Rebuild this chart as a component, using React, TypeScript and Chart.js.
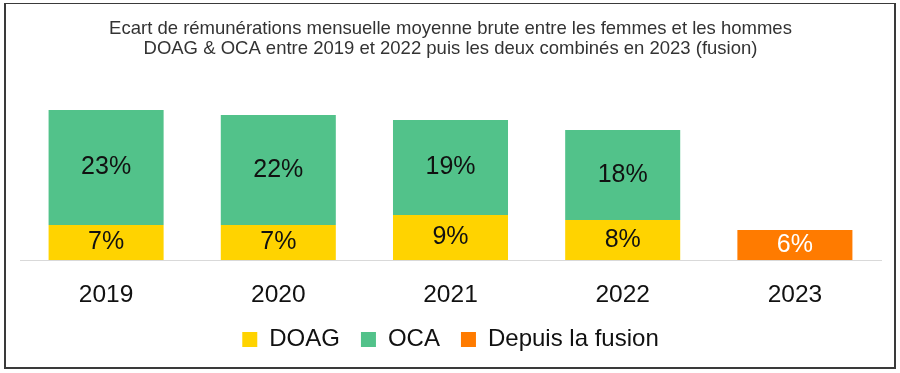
import React, { useEffect, useRef } from "react";
import { Chart, registerables } from "chart.js";

Chart.register(...registerables);

const categories = ["2019", "2020", "2021", "2022", "2023"];
const doagValues = [7, 7, 9, 8, null];
const ocaValues = [23, 22, 19, 18, null];
const fusionValues = [null, null, null, null, 6];
const seriesNames = ["DOAG", "OCA", "Depuis la fusion"];
const titleLines = [
  "Ecart de rémunérations mensuelle moyenne brute entre les femmes et les hommes",
  "DOAG & OCA entre 2019 et 2022 puis les deux combinés en 2023 (fusion)",
];

const FONT = "'Liberation Sans', Arial, Helvetica, sans-serif";

const segmentLabels = {
  id: "segmentLabels",
  afterDatasetsDraw(chart: any) {
    const ctx = chart.ctx;
    ctx.save();
    ctx.font = `25px ${FONT}`;
    ctx.textAlign = "center";
    ctx.textBaseline = "middle";
    chart.data.datasets.forEach((ds: any, i: number) => {
      const meta = chart.getDatasetMeta(i);
      meta.data.forEach((el: any, j: number) => {
        const v = ds.data[j];
        if (v == null) return;
        const { x, y, base } = el.getProps(["x", "y", "base"], true);
        ctx.fillStyle = ds.labelColor;
        ctx.fillText(`${v}%`, x, (y + base) / 2);
      });
    });
    ctx.restore();
  },
};

export default function App() {
  const ref = useRef<HTMLCanvasElement | null>(null);

  useEffect(() => {
    if (!ref.current) return;
    const chart = new Chart(ref.current, {
      type: "bar",
      data: {
        labels: categories,
        datasets: [
          {
            label: seriesNames[0],
            data: doagValues,
            backgroundColor: "#FFD300",
            labelColor: "#111111",
          } as any,
          {
            label: seriesNames[1],
            data: ocaValues,
            backgroundColor: "#52C28A",
            labelColor: "#111111",
          } as any,
          {
            label: seriesNames[2],
            data: fusionValues,
            backgroundColor: "#FF7B00",
            labelColor: "#FFFFFF",
          } as any,
        ],
      },
      options: {
        responsive: false,
        animation: false,
        events: [],
        datasets: {
          bar: {
            categoryPercentage: 1,
            barPercentage: 0.668,
            borderWidth: 0,
          },
        },
        layout: {
          padding: { left: 20, right: 19, top: 0, bottom: 11.5 },
        },
        scales: {
          x: {
            stacked: true,
            grid: { display: false, drawTicks: false, tickLength: 0 },
            border: { display: true, color: "#d9d9d9", width: 1 },
            ticks: {
              color: "#111111",
              padding: 29.5,
              font: { family: FONT, size: 24.5, lineHeight: 0.5 },
            },
            afterFit: (scale: any) => {
              scale.height = 46.5;
            },
          },
          y: {
            stacked: true,
            display: false,
            min: 0,
            max: 35,
          },
        },
        plugins: {
          tooltip: { enabled: false },
          title: {
            display: true,
            text: titleLines,
            color: "#333333",
            font: { family: FONT, size: 18.5, weight: "normal", lineHeight: 20 / 18.5 },
            padding: { top: 18.5, bottom: 26.5 },
          },
          legend: {
            display: true,
            position: "bottom",
            labels: {
              color: "#111111",
              boxWidth: 15,
              boxHeight: 15,
              padding: 21,
              font: { family: FONT, size: 24 },
            },
          },
        },
      },
      plugins: [segmentLabels],
    });
    return () => chart.destroy();
  }, []);

  return (
    <div
      style={{
        position: "fixed",
        left: 0,
        top: 0,
        width: 900,
        height: 373,
        background: "#ffffff",
      }}
    >
      <canvas
        ref={ref}
        width={900}
        height={373}
        style={{ position: "absolute", left: 0, top: 0, width: 900, height: 373 }}
      />
      <div
        style={{
          position: "absolute",
          left: 4,
          top: 3,
          width: 892,
          height: 366,
          boxSizing: "border-box",
          borderStyle: "solid",
          borderColor: "#3a3a3a",
          borderWidth: "1px 2px 2px 2px",
          pointerEvents: "none",
        }}
      />
    </div>
  );
}
